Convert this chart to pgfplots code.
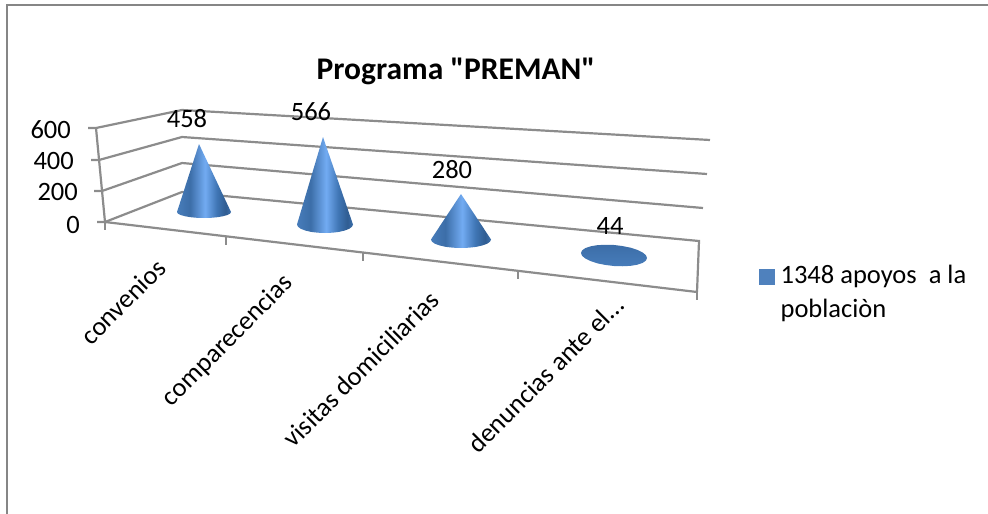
\documentclass[border=0pt]{standalone}
\usepackage{fontspec}
\setmainfont{Carlito}
\newfontfamily\plainfont{Carlito}
\usepackage{pgfplots}
\usepackage{pgfplotstable}
\pgfplotsset{compat=1.18}

\definecolor{gridgray}{HTML}{8C8C8C}
\definecolor{framegray}{HTML}{868686}
\definecolor{legblue}{HTML}{4F81BD}
\definecolor{coneA}{HTML}{477CBA}
\definecolor{coneB}{HTML}{3C6EA8}
\definecolor{coneC}{HTML}{72ABF2}
\definecolor{coneD}{HTML}{3F75B4}
\definecolor{coneE}{HTML}{305D92}
\definecolor{coneF}{HTML}{3D70AD}
\pgfdeclarehorizontalshading{coneblue}{100bp}{
  color(0bp)=(coneA); color(25bp)=(coneA); color(37bp)=(coneB);
  color(51bp)=(coneC); color(62bp)=(coneD); color(70bp)=(coneE);
  color(75bp)=(coneF); color(100bp)=(coneF)}

% value labels: x y value
\pgfplotstableread{
lx ly value
187 119 458
311 112 566
452 170 280
610 226 44
}\valuelabels

\begin{document}
\begin{tikzpicture}
\useasboundingbox (0,0) rectangle (988pt,514pt);
\begin{axis}[
    scale only axis, width=988pt, height=514pt,
    at={(0,0)}, anchor=south west,
    xmin=0, xmax=988, ymin=0, ymax=514, y dir=reverse,
    hide axis, clip=false,
    legend style={draw=none, fill=none, font=\fontsize{26.5}{33.5}\selectfont,
        at={(axis cs:756,261)}, anchor=north west,
        cells={anchor=west, align=left}},
    legend image code/.code={\fill[legblue] (0pt,8pt) rectangle (15pt,23pt); \path (19pt,8pt);},
]
\addlegendimage{legblue}
\addlegendentry{1348 apoyos\ \ a la\\poblaciòn}

% outer frame
\addplot[framegray, line width=2pt] coordinates {(7,514) (7,5) (988,5)};

% value walls
\addplot[gridgray, line width=2.2pt] coordinates {(88,128) (96,128) (182,110) (710,140)};
\addplot[gridgray, line width=2.2pt] coordinates {(91,160) (99,160) (182,137) (707,174)};
\addplot[gridgray, line width=2.2pt] coordinates {(94,191) (102,191) (182,163) (703,208)};
\addplot[gridgray, line width=2.2pt] coordinates {(97,222) (105,222) (182,192) (699,241) (697,292)};
% left axis and floor front edge
\addplot[gridgray, line width=2.2pt] coordinates {(96,128) (105,222) (697,292)};
% category ticks
\addplot[gridgray, line width=1.4pt] coordinates {(105,222) (105,230)};
\addplot[gridgray, line width=1.4pt] coordinates {(226,236) (226,245)};
\addplot[gridgray, line width=1.4pt] coordinates {(363,252) (363,261)};
\addplot[gridgray, line width=1.4pt] coordinates {(518,271) (518,279)};
\addplot[gridgray, line width=1.4pt] coordinates {(697,292) (697,300)};

% cones
\addplot[draw=none, shade, shading=coneblue] coordinates {
 (199,144) (177,212) (177.9,213.6) (180.6,215) (184.9,216.2) (190.5,217.2) (197,217.8)
 (204,218) (211,217.8) (217.5,217.2) (223.1,216.2) (227.4,215) (230.1,213.6) (231,212)} -- cycle;
\addplot[draw=none, shade, shading=coneblue] coordinates {
 (323,137) (297,224.5) (298,226.7) (300.8,228.8) (305.2,230.5) (311,231.9) (317.7,232.7)
 (325,233) (332.3,232.7) (339,231.9) (344.8,230.5) (349.2,228.8) (352,226.7) (353,224.5)} -- cycle;
\addplot[draw=none, shade, shading=coneblue] coordinates {
 (461,194) (431,239.5) (432,241.7) (435,243.8) (439.8,245.5) (446,246.9) (453.2,247.7)
 (461,248) (468.8,247.7) (476,246.9) (482.2,245.5) (487,243.8) (490,241.7) (491,239.5)} -- cycle;
\addplot[draw=none, shade, top color=coneB, bottom color=coneA] coordinates {
 (581,253) (582.1,255.8) (585.4,258.55) (590.7,261.1) (597.5,263.35) (605.5,264.95)
 (614,266) (622.5,266.25) (630.5,265.85) (637.3,264.7) (642.6,262.95) (645.9,260.6)
 (647,258) (645.9,255.2) (642.6,252.45) (637.3,249.9) (630.5,247.65) (622.5,246.05)
 (614,245) (605.5,244.75) (597.5,245.15) (590.7,246.3) (585.4,248.05) (582.1,250.4)} -- cycle;

% value labels
\addplot[draw=none, nodes near coords, point meta=explicit symbolic,
    nodes near coords style={anchor=center, inner sep=0pt, font=\fontsize{26.5}{30}\selectfont, text=black}]
    table[x=lx, y=ly, meta=value] {\valuelabels};

% texts
\node[font=\fontsize{31.5}{36}\plainfont\bfseries] at (axis cs:456,71) {Programa "PREMAN"};
\begin{scope}[every node/.append style={font=\fontsize{26.5}{30}\selectfont, inner sep=0pt}]
\node[anchor=east] at (axis cs:71,130) {600};
\node[anchor=east] at (axis cs:74,161) {400};
\node[anchor=east] at (axis cs:78,192) {200};
\node[anchor=east] at (axis cs:80,225) {0};
\node[rotate=45] at (axis cs:123,302) {convenios};
\node[rotate=45] at (axis cs:228,341) {comparecencias};
\node[rotate=45] at (axis cs:361,369) {visitas domiciliarias};
\node[rotate=45] at (axis cs:546,374) {denuncias ante el...};
\end{scope}
\end{axis}
\end{tikzpicture}
\end{document}
